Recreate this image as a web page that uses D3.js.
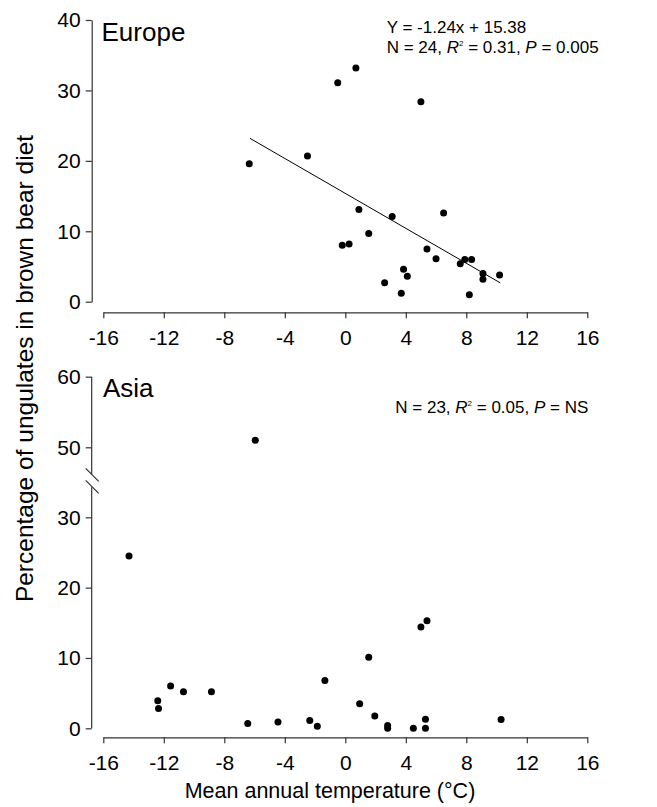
<!DOCTYPE html>
<html><head><meta charset="utf-8">
<script src="https://cdn.jsdelivr.net/npm/d3@7"></script>
<style>
html,body{margin:0;padding:0;background:#fff;}
text{font-family:"Liberation Sans",Arial,Helvetica,sans-serif;fill:#000;}
</style></head>
<body>
<svg id="chart" width="657" height="807"></svg>
<script>
// Europe data: mean annual temperature (°C) vs % ungulates in diet
const europeTemp = [-6.35,-2.5,-0.5,0.7,5.0,0.9,3.1,6.5,1.55,-0.2,0.25,5.4,6.0,7.6,7.9,8.35,9.1,9.1,10.2,3.85,4.1,2.6,3.7,8.2];
const europePct  = [19.6,20.7,31.1,33.2,28.4,13.1,12.1,12.6,9.7,8.0,8.2,7.5,6.1,5.4,6.0,6.0,4.0,3.2,3.8,4.6,3.6,2.7,1.2,1.0];
// Asia data
const asiaTemp = [-14.3,-5.95,-12.4,-12.35,-11.55,-10.7,-8.85,-6.45,-4.45,-2.35,-1.85,-1.35,0.95,1.55,1.95,2.8,2.8,4.5,5.3,5.3,5.0,5.4,10.3];
const asiaPct  = [24.5,51.0,3.9,2.8,6.0,5.2,5.2,0.7,0.9,1.1,0.3,6.8,3.5,10.1,1.75,0.4,0.0,0.0,0.0,1.3,14.4,15.3,1.25];
// Regression (Europe)
const regSlope = -1.24, regIntercept = 15.38;
const regRange = [-6.3, 10.25];
// Ticks
const xTicks = [-16,-12,-8,-4,0,4,8,12,16];
const europeYTicks = [0,10,20,30,40];
const asiaYTicks = [0,10,20,30,50,60];
const xLabel = "Mean annual temperature (°C)";
const yLabel = "Percentage of ungulates in brown bear diet";

const svg = d3.select("#chart");
const axisColor = "#333";
const dotR = 3.5;
const fmt = d => String(d);

const x = d3.scaleLinear().domain([-16,16]).range([103.3,587.3]);
const yEu = d3.scaleLinear().domain([0,40]).range([301.7,20]);
const yAs = d3.scaleLinear().domain([0,30,50,60]).range([728.3,517.3,447.3,376.7]);

function xAxis(yPos){
  const g = svg.append("g").attr("transform",`translate(0,${yPos})`)
    .call(d3.axisBottom(x).tickValues(xTicks).tickSize(6).tickPadding(9).tickSizeOuter(0).tickFormat(fmt));
  g.select(".domain").attr("stroke",axisColor).attr("stroke-width",1.2);
  g.selectAll(".tick line").attr("stroke",axisColor).attr("stroke-width",1.2);
  g.selectAll(".tick text").style("font-size","21px").attr("fill","#000").attr("dy","0.85em");
  g.attr("font-family",null);
  return g;
}
function yAxis(scale, ticks, xPos, withDomain){
  const g = svg.append("g").attr("transform",`translate(${xPos},0)`)
    .call(d3.axisLeft(scale).tickValues(ticks).tickSize(6).tickPadding(5).tickSizeOuter(0).tickFormat(fmt));
  g.select(".domain").attr("stroke",axisColor).attr("stroke-width",1.2);
  if(!withDomain) g.select(".domain").remove();
  g.selectAll(".tick line").attr("stroke",axisColor).attr("stroke-width",1.2);
  g.selectAll(".tick text").style("font-size","21px").attr("fill","#000");
  g.attr("font-family",null);
  return g;
}

// ---- Europe panel ----
xAxis(312.3);
yAxis(yEu, europeYTicks, 91.7, true);

svg.append("line")
  .attr("x1",x(regRange[0])).attr("y1",yEu(regSlope*regRange[0]+regIntercept))
  .attr("x2",x(regRange[1])).attr("y2",yEu(regSlope*regRange[1]+regIntercept))
  .attr("stroke","#000").attr("stroke-width",1);

svg.append("g").selectAll("circle").data(d3.zip(europeTemp,europePct)).join("circle")
  .attr("cx",d=>x(d[0])).attr("cy",d=>yEu(d[1])).attr("r",dotR).attr("fill","#000");

svg.append("text").attr("x",101.5).attr("y",41).style("font-size","26px").text("Europe");
svg.append("text").attr("x",386.7).attr("y",33.3).style("font-size","17px").text("Y = -1.24x + 15.38");
{
  const t = svg.append("text").attr("x",386.7).attr("y",53.3).style("font-size","17px");
  t.append("tspan").text("N = 24, ");
  t.append("tspan").style("font-style","italic").text("R");
  t.append("tspan").attr("dy",-7).style("font-size","8px").text("2");
  t.append("tspan").attr("dy",7).text(" = 0.31, ");
  t.append("tspan").style("font-style","italic").text("P");
  t.append("tspan").text(" = 0.005");
}

// ---- Asia panel ----
xAxis(737.3);
yAxis(yAs, asiaYTicks, 91.7, false);
const axX = 91.7;
const mid = (yAs(30)+yAs(50))/2;
svg.append("line").attr("x1",axX).attr("x2",axX).attr("y1",yAs(60)).attr("y2",mid-8)
  .attr("stroke",axisColor).attr("stroke-width",1.2);
svg.append("line").attr("x1",axX).attr("x2",axX).attr("y1",mid+5).attr("y2",yAs(0))
  .attr("stroke",axisColor).attr("stroke-width",1.2);
[-7,5].forEach(o=>{
  svg.append("line").attr("x1",axX-6).attr("y1",mid+o-7).attr("x2",axX+7).attr("y2",mid+o+6)
    .attr("stroke",axisColor).attr("stroke-width",1.2);
});

svg.append("g").selectAll("circle").data(d3.zip(asiaTemp,asiaPct)).join("circle")
  .attr("cx",d=>x(d[0])).attr("cy",d=>yAs(d[1])).attr("r",dotR).attr("fill","#000");

svg.append("text").attr("x",103).attr("y",396.7).style("font-size","26px").text("Asia");
{
  const t = svg.append("text").attr("x",588.3).attr("y",413.3).attr("text-anchor","end").style("font-size","17px");
  t.append("tspan").text("N = 23, ");
  t.append("tspan").style("font-style","italic").text("R");
  t.append("tspan").attr("dy",-7).style("font-size","8px").text("2");
  t.append("tspan").attr("dy",7).text(" = 0.05, ");
  t.append("tspan").style("font-style","italic").text("P");
  t.append("tspan").text(" = NS");
}

// ---- Axis titles ----
svg.append("text").attr("x",330).attr("y",798).attr("text-anchor","middle").style("font-size","21.5px").text(xLabel);
svg.append("text").attr("transform","translate(33,368.5) rotate(-90)").attr("text-anchor","middle").style("font-size","24.5px").text(yLabel);
</script>
</body></html>
